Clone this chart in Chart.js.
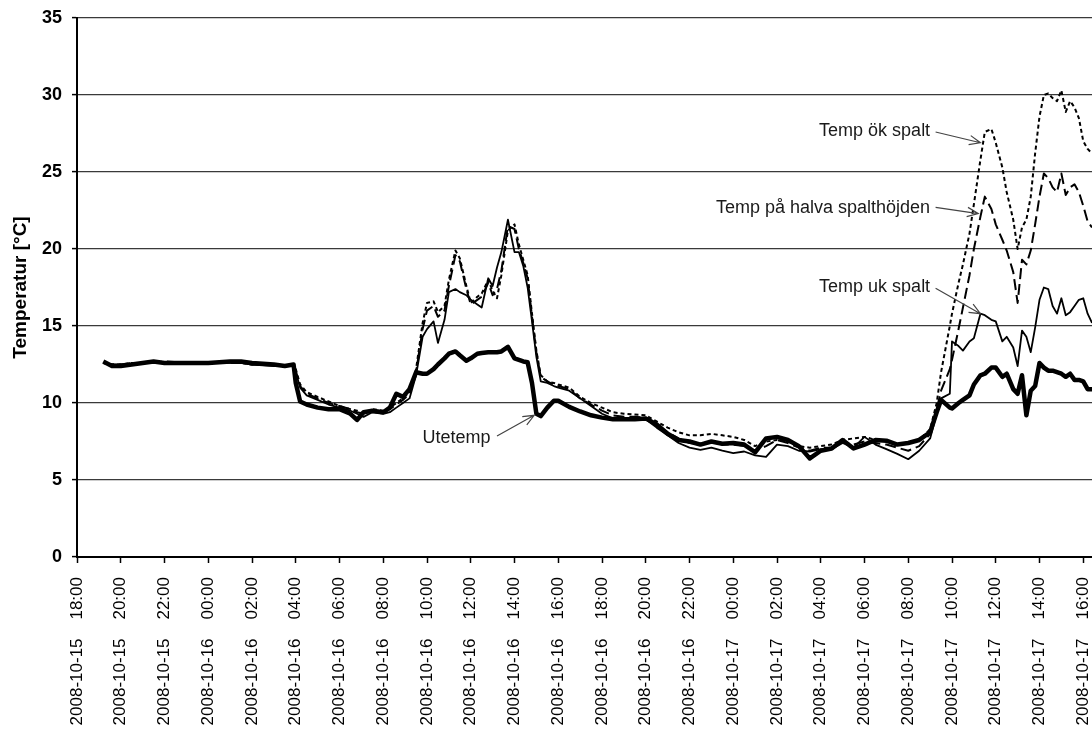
<!DOCTYPE html>
<html lang="sv">
<head>
<meta charset="UTF-8">
<title>Temperatur i spalt</title>
<script src="https://cdn.jsdelivr.net/npm/chart.js"></script>
<style>
  html, body { margin: 0; padding: 0; background: #fff; }
  #wrap { width: 1092px; height: 731px; position: relative; }
</style>
</head>
<body>
<div id="wrap"><canvas id="chart"></canvas></div>
<script>
// timmar efter 2008-10-15 18:00
var hours = [
  1.2, 1.6, 2.0, 2.5, 3.0, 3.5, 4.0, 5.0, 6.0, 7.0, 7.5, 8.0, 9.0, 9.5, 9.9,
  10.0, 10.2, 10.5, 11.0, 11.5, 12.0, 12.5, 12.8, 13.1, 13.5, 14.0, 14.3, 14.6, 14.9, 15.2, 15.5, 15.8,
  16.0, 16.3, 16.5, 16.8, 17.0, 17.3, 17.5, 17.8, 18.0, 18.3, 18.5, 18.8, 19.0, 19.2, 19.4, 19.7, 20.0, 20.2, 20.4, 20.6, 20.8, 21.0, 21.2, 21.5, 21.8, 22.0,
  22.5, 23.0, 23.5, 24.0, 24.5, 25.0, 25.5, 26.0, 26.5, 27.0, 27.5, 28.0, 28.5, 29.0, 29.5, 30.0, 30.5, 31.0, 31.5, 32.0, 32.5, 33.0, 33.5, 34.0, 34.5, 35.0, 35.5, 36.0, 36.5, 37.0, 37.5, 38.0, 38.5, 39.0, 39.3,
  39.5, 39.9, 40.0, 40.3, 40.5, 40.8, 41.0, 41.3, 41.5, 41.8, 42.0, 42.3, 42.5, 42.8, 43.0, 43.2, 43.4, 43.6, 43.8, 44.0, 44.2, 44.4, 44.6, 44.8, 45.0, 45.2, 45.4, 45.6, 45.8, 46.0, 46.2, 46.4
];

var utetemp = [
  12.7, 12.4, 12.4, 12.5, 12.6, 12.7, 12.6, 12.6, 12.6, 12.7, 12.7, 12.6, 12.5, 12.4, 12.5,
  11.3, 10.1, 9.9, 9.7, 9.6, 9.6, 9.3, 8.9, 9.4, 9.5, 9.4, 9.7, 10.6, 10.4, 10.9, 12.0, 11.9,
  11.9, 12.2, 12.5, 12.9, 13.2, 13.35, 13.1, 12.75, 12.9, 13.2, 13.25, 13.3, 13.3, 13.3, 13.35, 13.65, 12.9, 12.8, 12.7, 12.65, 11.3, 9.3, 9.15, 9.7, 10.15, 10.15,
  9.75, 9.45, 9.2, 9.05, 8.95, 8.95, 8.95, 9.0, 8.6, 8.0, 7.6, 7.5, 7.3, 7.5, 7.35, 7.4, 7.3, 6.8, 7.7, 7.8, 7.6, 7.2, 6.4, 6.9, 7.05, 7.6, 7.05, 7.3, 7.6, 7.55, 7.3, 7.4, 7.6, 8.1, 9.4,
  10.2, 9.7, 9.65, 10.0, 10.2, 10.5, 11.2, 11.8, 11.9, 12.3, 12.3, 11.7, 11.9, 10.9, 10.6, 11.8, 9.2, 10.8, 11.1, 12.6, 12.3, 12.1, 12.1, 12.0, 11.9, 11.7, 11.9, 11.5, 11.5, 11.4, 10.9, 10.9
];

var ukSpalt = [
  12.6, 12.5, 12.5, 12.5, 12.6, 12.6, 12.6, 12.6, 12.6, 12.6, 12.6, 12.5, 12.4, 12.4, 12.5,
  12.0, 11.0, 10.5, 10.2, 9.9, 9.7, 9.5, 9.3, 9.1, 9.4, 9.3, 9.4, 9.7, 10.0, 10.3, 11.8, 14.3,
  14.8, 15.3, 13.9, 15.4, 17.2, 17.4, 17.2, 17.0, 16.7, 16.4, 16.2, 18.1, 17.6, 18.8, 19.8, 21.9, 19.8, 19.8, 18.9, 17.5, 15.3, 13.0, 11.4, 11.3, 11.1, 11.0,
  10.8, 10.3, 9.8, 9.3, 9.0, 8.95, 8.95, 8.95, 8.4, 7.9, 7.4, 7.1, 6.95, 7.1, 6.9, 6.75, 6.85, 6.6, 6.5, 7.3, 7.2, 6.9, 6.85, 7.0, 7.0, 7.4, 7.1, 7.8, 7.3, 7.0, 6.7, 6.35, 6.9, 7.7, 9.3,
  10.3, 10.6, 14.0, 13.7, 13.4, 14.0, 14.2, 15.8, 15.7, 15.4, 15.3, 14.0, 14.3, 13.6, 12.4, 14.7, 14.3, 13.3, 14.9, 16.7, 17.5, 17.4, 16.3, 15.8, 16.8, 15.7, 15.9, 16.3, 16.7, 16.8, 15.8, 15.2
];

var halvaSpalt = [
  12.6, 12.5, 12.5, 12.6, 12.6, 12.6, 12.7, 12.6, 12.6, 12.6, 12.6, 12.5, 12.5, 12.4, 12.4,
  12.1, 11.1, 10.6, 10.3, 10.0, 9.8, 9.6, 9.4, 9.3, 9.5, 9.4, 9.6, 9.9, 10.2, 10.6, 12.0, 14.8,
  16.0, 16.3, 15.6, 16.0, 17.6, 19.6, 19.2, 17.4, 16.4, 16.7, 16.9, 17.8, 17.0, 17.4, 18.6, 21.5, 21.3, 20.0, 19.1, 18.1, 15.6, 13.3, 11.7, 11.4, 11.2, 11.1,
  10.9, 10.3, 9.9, 9.5, 9.2, 9.1, 9.1, 9.05, 8.6, 8.1, 7.7, 7.4, 7.35, 7.5, 7.3, 7.3, 7.2, 6.9, 7.2, 7.6, 7.4, 7.1, 6.9, 7.1, 7.1, 7.5, 7.3, 7.5, 7.4, 7.3, 7.1, 6.9, 7.2, 8.0, 9.6,
  10.8, 12.2, 12.8, 14.8, 16.2, 18.3, 20.0, 22.1, 23.4, 22.6, 21.6, 20.6, 19.9, 18.5, 16.5, 19.3, 19.0, 19.9, 21.6, 23.4, 24.9, 24.6, 24.0, 23.7, 24.9, 23.5, 24.0, 24.2, 23.7, 22.8, 21.8, 21.4
];

var okSpalt = [
  12.6, 12.5, 12.5, 12.6, 12.6, 12.7, 12.6, 12.6, 12.6, 12.7, 12.6, 12.5, 12.5, 12.4, 12.5,
  12.2, 11.2, 10.7, 10.4, 10.1, 9.8, 9.6, 9.5, 9.3, 9.6, 9.5, 9.7, 10.0, 10.3, 10.7, 12.2, 15.2,
  16.5, 16.6, 15.9, 16.3, 18.0, 19.9, 19.4, 17.6, 16.5, 16.9, 17.1, 18.0, 17.3, 16.8, 18.3, 21.2, 21.6, 20.3, 19.3, 18.3, 15.8, 13.4, 11.8, 11.4, 11.3, 11.2,
  11.0, 10.4, 10.0, 9.7, 9.4, 9.3, 9.25, 9.2, 8.8, 8.4, 8.1, 7.9, 7.9, 8.0, 7.9, 7.8, 7.6, 7.2, 7.5, 7.6, 7.5, 7.2, 7.1, 7.2, 7.3, 7.6, 7.7, 7.8, 7.6, 7.6, 7.3, 7.4, 7.6, 8.3, 10.0,
  12.0, 15.0, 15.8, 17.8, 19.0, 21.0, 22.9, 25.8, 27.6, 27.8, 26.9, 25.3, 23.7, 21.9, 20.0, 21.4, 21.9, 23.4, 26.2, 28.6, 30.0, 30.1, 29.8, 29.6, 30.3, 28.9, 29.6, 29.2, 28.5, 27.0, 26.5, 26.2
];

// etiketter var annan timme, från 0 till 46
var tickLabels = [
  '2008-10-15    18:00', '2008-10-15    20:00', '2008-10-15    22:00',
  '2008-10-16    00:00', '2008-10-16    02:00', '2008-10-16    04:00', '2008-10-16    06:00',
  '2008-10-16    08:00', '2008-10-16    10:00', '2008-10-16    12:00', '2008-10-16    14:00',
  '2008-10-16    16:00', '2008-10-16    18:00', '2008-10-16    20:00', '2008-10-16    22:00',
  '2008-10-17    00:00', '2008-10-17    02:00', '2008-10-17    04:00', '2008-10-17    06:00',
  '2008-10-17    08:00', '2008-10-17    10:00', '2008-10-17    12:00', '2008-10-17    14:00',
  '2008-10-17    16:00'
];

function pairs(values) {
  return values.map(function (v, i) { return { x: hours[i], y: v }; });
}

// textetiketter med pilar (i dataenheter)
var notes = [
  { text: 'Temp ök spalt', tx: 39.0, ty: 27.66, x0: 39.25, y0: 27.6, x1: 41.3, y1: 26.9 },
  { text: 'Temp på halva spalthöjden', tx: 39.0, ty: 22.66, x0: 39.25, y0: 22.7, x1: 41.2, y1: 22.3 },
  { text: 'Temp uk spalt', tx: 39.0, ty: 17.53, x0: 39.25, y0: 17.45, x1: 41.3, y1: 15.8 },
  { text: 'Utetemp', tx: 18.9, ty: 7.73, x0: 19.2, y0: 7.86, x1: 20.9, y1: 9.2 }
];

var notePlugin = {
  id: 'notes',
  afterDatasetsDraw: function (chart) {
    var ctx = chart.ctx, xs = chart.scales.x, ys = chart.scales.y;
    ctx.save();
    ctx.font = '18px "Liberation Sans", Arial, sans-serif';
    ctx.fillStyle = '#1a1a1a';
    ctx.textAlign = 'right';
    ctx.textBaseline = 'middle';
    ctx.strokeStyle = '#444';
    ctx.lineWidth = 1.2;
    notes.forEach(function (n) {
      ctx.fillText(n.text, xs.getPixelForValue(n.tx), ys.getPixelForValue(n.ty));
      var ax = xs.getPixelForValue(n.x0), ay = ys.getPixelForValue(n.y0);
      var bx = xs.getPixelForValue(n.x1), by = ys.getPixelForValue(n.y1);
      var ang = Math.atan2(by - ay, bx - ax);
      ctx.beginPath();
      ctx.moveTo(ax, ay);
      ctx.lineTo(bx, by);
      ctx.moveTo(bx - 12 * Math.cos(ang - 0.4), by - 12 * Math.sin(ang - 0.4));
      ctx.lineTo(bx, by);
      ctx.lineTo(bx - 12 * Math.cos(ang + 0.4), by - 12 * Math.sin(ang + 0.4));
      ctx.stroke();
    });
    ctx.restore();
  }
};

var ctx = document.getElementById('chart').getContext('2d');
new Chart(ctx, {
  type: 'line',
  data: {
    datasets: [
      { label: 'Temp ök spalt', data: pairs(okSpalt), borderColor: '#000', borderWidth: 2, borderDash: [4, 3] },
      { label: 'Temp på halva spalthöjden', data: pairs(halvaSpalt), borderColor: '#000', borderWidth: 2, borderDash: [11, 5] },
      { label: 'Temp uk spalt', data: pairs(ukSpalt), borderColor: '#000', borderWidth: 1.8 },
      { label: 'Utetemp', data: pairs(utetemp), borderColor: '#000', borderWidth: 4.5 }
    ]
  },
  options: {
    responsive: true,
    maintainAspectRatio: false,
    animation: false,
    layout: { padding: { top: 18, left: 0, right: 0, bottom: 0 } },
    elements: { point: { radius: 0 }, line: { tension: 0, borderJoinStyle: 'round' } },
    plugins: { legend: { display: false }, tooltip: { enabled: false } },
    scales: {
      x: {
        type: 'linear',
        min: 0,
        max: 46.4,
        ticks: {
          stepSize: 2,
          includeBounds: false,
          autoSkip: false,
          minRotation: 90,
          maxRotation: 90,
          padding: 14,
          color: '#000',
          font: { family: '"Liberation Sans", Arial, sans-serif', size: 17 },
          callback: function (v) { return tickLabels[Math.round(v / 2)]; }
        },
        grid: { drawOnChartArea: false, drawTicks: true, tickLength: 6, tickColor: '#000', tickWidth: 1.5 },
        border: { color: '#000', width: 2 },
        afterFit: function (s) { s.height = 174; s.paddingLeft = 0; s.paddingRight = 0; }
      },
      y: {
        min: 0,
        max: 35,
        ticks: {
          stepSize: 5,
          padding: 10,
          color: '#000',
          font: { family: '"Liberation Sans", Arial, sans-serif', size: 18, weight: 'bold' }
        },
        grid: { color: '#3a3a3a', lineWidth: 1.2, tickLength: 5, tickColor: '#000', tickWidth: 1.5 },
        border: { color: '#000', width: 2 },
        title: {
          display: true,
          text: 'Temperatur [°C]',
          color: '#000',
          padding: { top: 9, bottom: 0 },
          font: { family: '"Liberation Sans", Arial, sans-serif', size: 19, weight: 'bold' }
        },
        afterFit: function (s) { s.width = 77; s.paddingTop = 0; s.paddingBottom = 0; }
      }
    }
  },
  plugins: [notePlugin]
});
</script>
</body>
</html>
